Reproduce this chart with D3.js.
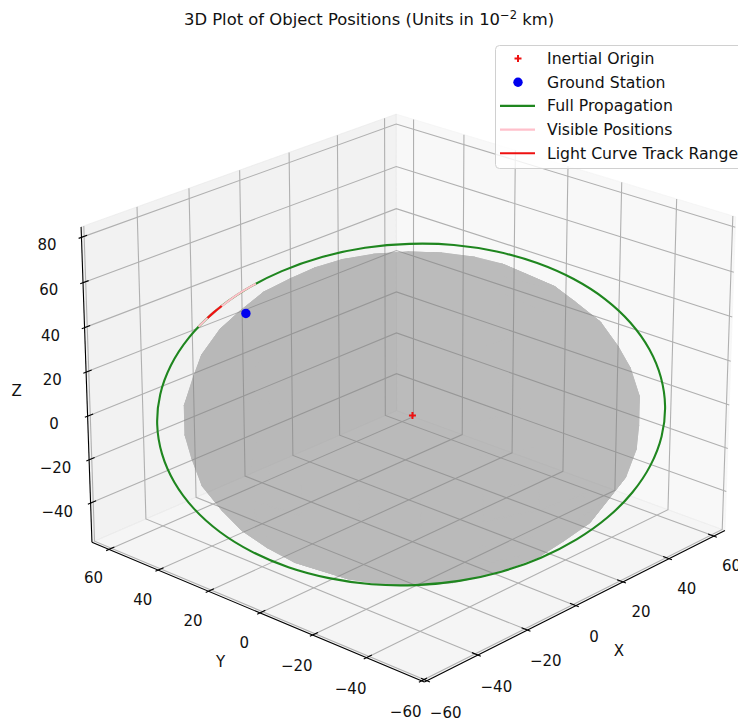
<!DOCTYPE html>
<html>
<head>
<meta charset="utf-8">
<script src="https://cdn.jsdelivr.net/npm/d3@7"></script>
<style>
  body { margin: 0; background: #fff; }
  text { font-family: "DejaVu Sans", sans-serif; fill: #111; }
</style>
</head>
<body>
<svg id="chart" width="738" height="723"></svg>
<script>
// axis ranges and ticks (units of 10^-2 km)
const xLim = [-61, 65];
const yLim = [-61, 67];
const zLim = [-58.3, 84.6];
const xTicks = [-60, -40, -20, 0, 20, 40, 60];
const yTicks = [-60, -40, -20, 0, 20, 40, 60];
const zTicks = [-40, -20, 0, 20, 40, 60, 80];

const earthRadius = 63.78;
const inertialOrigin = [0, 0, 0];
const groundStation = [-27.7, 37.3, 43.4];

// orbit samples [x, y, z]
const fullPropagation = [
  [-52.0, 48.4, 0], [-49.8, 49.2, 12.2], [-46.1, 48.5, 23.9], [-41.0, 46.3, 35.0],
  [-34.6, 42.7, 45.0], [-27.2, 37.8, 53.6], [-18.9, 31.8, 60.6], [-10.1, 24.8, 65.8],
  [-1.0, 17.0, 69.0], [8.2, 8.8, 70.0], [17.1, 0.2, 69.0], [25.4, -8.3, 65.8],
  [33.1, -16.6, 60.6], [39.7, -24.4, 53.6], [45.1, -31.4, 45.0], [49.1, -37.5, 35.0],
  [51.6, -42.5, 23.9], [52.6, -46.1, 12.2], [52.0, -48.4, 0], [49.8, -49.2, -12.2],
  [46.1, -48.5, -23.9], [41.0, -46.3, -35.0], [34.6, -42.7, -45.0], [27.2, -37.8, -53.6],
  [18.9, -31.8, -60.6], [10.1, -24.8, -65.8], [1.0, -17.0, -69.0], [-8.2, -8.8, -70.0],
  [-17.1, -0.2, -69.0], [-25.4, 8.3, -65.8], [-33.1, 16.6, -60.6], [-39.7, 24.4, -53.6],
  [-45.1, 31.4, -45.0], [-49.1, 37.5, -35.0], [-51.6, 42.5, -23.9], [-52.6, 46.1, -12.2]
];
const visiblePositions = [
  [-38.6, 45.0, 39.2], [-35.3, 43.1, 44.1], [-31.7, 40.9, 48.6], [-28.0, 38.4, 52.8], [-24.8, 36.1, 55.9]
];
const lightCurveTrack = [
  [-36.3, 43.7, 42.6], [-34.6, 42.7, 45.0], [-32.8, 41.6, 47.3]
];

const legendLabels = ["Inertial Origin", "Ground Station", "Full Propagation", "Visible Positions", "Light Curve Track Range"];
const legendColors = ["#ee1111", "#0000ee", "#1f861f", "#ffc0cb", "#ee1111"];

// view
const elev = 23, azim = -137.5, camDist = 10;
const boxK = 1.8294640721620434 / Math.hypot(4, 4, 3);
const box = [4 * boxK, 4 * boxK, 3 * boxK];
const nx = d3.scaleLinear().domain(xLim).range([0, box[0]]);
const ny = d3.scaleLinear().domain(yLim).range([0, box[1]]);
const nz = d3.scaleLinear().domain(zLim).range([0, box[2]]);
const sx = d3.scaleLinear().domain([-0.095, 0.09]).range([30.8, 768.2]);
const sy = d3.scaleLinear().domain([-0.095, 0.09]).range([760.4, 23.0]);

const er = elev * Math.PI / 180, ar = azim * Math.PI / 180;
const wv = [Math.cos(er) * Math.cos(ar), Math.cos(er) * Math.sin(ar), Math.sin(er)];
const uv = [-Math.sin(ar), Math.cos(ar), 0];
const vv = [-Math.sin(er) * Math.cos(ar), -Math.sin(er) * Math.sin(ar), Math.cos(er)];

function project(p) {
  const d = [nx(p[0]) - box[0] / 2, ny(p[1]) - box[1] / 2, nz(p[2]) - box[2] / 2];
  const dot = m => m[0] * d[0] + m[1] * d[1] + m[2] * d[2];
  const depth = camDist - dot(wv);
  return [sx(dot(uv) / depth), sy(dot(vv) / depth)];
}

const svg = d3.select("#chart");
svg.append("rect").attr("width", 738).attr("height", 723).attr("fill", "#fff");

const line3 = d3.line().x(p => project(p)[0]).y(p => project(p)[1]);
const [x0, x1] = xLim, [y0, y1] = yLim, [z0, z1] = zLim;

// panes
const panes = [
  { pts: [[x1, y0, z0], [x1, y1, z0], [x1, y1, z1], [x1, y0, z1]], c: "rgba(242,242,242,0.5)" },
  { pts: [[x0, y1, z0], [x1, y1, z0], [x1, y1, z1], [x0, y1, z1]], c: "rgba(230,230,230,0.5)" },
  { pts: [[x0, y0, z0], [x1, y0, z0], [x1, y1, z0], [x0, y1, z0]], c: "rgba(236,236,236,0.5)" }
];
svg.append("g").selectAll("path").data(panes).join("path")
  .attr("d", d => line3(d.pts) + "Z")
  .attr("fill", d => d.c)
  .attr("stroke", d => d.c);

// grid
const gridLines = [];
xTicks.forEach(t => gridLines.push([[t, y0, z0], [t, y1, z0], [t, y1, z1]]));
yTicks.forEach(t => gridLines.push([[x0, t, z0], [x1, t, z0], [x1, t, z1]]));
zTicks.forEach(t => gridLines.push([[x0, y1, t], [x1, y1, t], [x1, y0, t]]));
svg.append("g").selectAll("path").data(gridLines).join("path")
  .attr("d", line3)
  .attr("fill", "none")
  .attr("stroke", "#b0b0b0")
  .attr("stroke-width", 1.1);

// axis lines
const axisLines = [
  [[x0, y0, z0], [x1, y0, z0]],
  [[x0, y0, z0], [x0, y1, z0]],
  [[x0, y1, z0], [x0, y1, z1]]
];
svg.append("g").selectAll("path").data(axisLines).join("path")
  .attr("d", line3).attr("stroke", "#000").attr("stroke-width", 1.1);

// ticks
const dx = (x1 - x0) / 12, dy = (y1 - y0) / 12;
const tickMarks = [];
xTicks.forEach(t => tickMarks.push([[t, y0 - 0.1 * dy, z0], [t, y0 + 0.2 * dy, z0]]));
yTicks.forEach(t => tickMarks.push([[x0 - 0.1 * dx, t, z0], [x0 + 0.2 * dx, t, z0]]));
zTicks.forEach(t => tickMarks.push([[x0 - 0.1 * dx, y1, t], [x0 + 0.2 * dx, y1, t]]));
svg.append("g").selectAll("path").data(tickMarks).join("path")
  .attr("d", line3).attr("stroke", "#000").attr("stroke-width", 1.1);

const fmt = v => (v < 0 ? "\u2212" + Math.abs(v) : String(v));
const tickLabels = [];
xTicks.forEach(t => tickLabels.push({ p: [t, y0 - 6.7, z0 - 10.8], s: fmt(t) }));
yTicks.forEach(t => tickLabels.push({ p: [x0 - 6.15, t, z0 - 10.3], s: fmt(t) }));
zTicks.forEach(t => tickLabels.push({ p: [x0 - 10.2, y1 + 2.7, t], s: fmt(t) }));
tickLabels.push({ p: [(x0 + x1) / 2, y0 - 14, z0 - 14.9], s: "X" });
tickLabels.push({ p: [x0 - 12.3, (y0 + y1) / 2, z0 - 16.95], s: "Y" });
tickLabels.push({ p: [x0 - 14.7, y1 + 12.6, (z0 + z1) / 2], s: "Z" });
svg.append("g").selectAll("text").data(tickLabels).join("text")
  .attr("x", d => project(d.p)[0])
  .attr("y", d => project(d.p)[1])
  .attr("text-anchor", "middle")
  .attr("dominant-baseline", "central")
  .attr("font-size", 15)
  .text(d => d.s);

// earth
const lats = d3.range(-90, 90, 12);
const lons = d3.range(0, 360, 15);
const toXYZ = (lat, lon) => {
  const la = lat * Math.PI / 180, lo = lon * Math.PI / 180;
  return [earthRadius * Math.cos(la) * Math.cos(lo), earthRadius * Math.cos(la) * Math.sin(lo), earthRadius * Math.sin(la)];
};
const faces = [];
lats.forEach(la => lons.forEach(lo => {
  const la2 = Math.min(la + 12, 90);
  faces.push([toXYZ(la, lo), toXYZ(la, lo + 15), toXYZ(la2, lo + 15), toXYZ(la2, lo)]);
}));
svg.append("g").attr("opacity", 0.5)
  .selectAll("path").data(faces).join("path")
  .attr("d", d => line3(d) + "Z")
  .attr("fill", "#808080")
  .attr("stroke", "#808080")
  .attr("stroke-width", 0.8);

// orbit
const closedLine = d3.line().curve(d3.curveCatmullRomClosed).x(p => project(p)[0]).y(p => project(p)[1]);
svg.append("path").attr("d", closedLine(fullPropagation))
  .attr("fill", "none").attr("stroke", legendColors[2]).attr("stroke-width", 2.1);
const arc = d3.line().curve(d3.curveCatmullRom).x(p => project(p)[0]).y(p => project(p)[1]);
svg.append("path").attr("d", arc(visiblePositions))
  .attr("fill", "none").attr("stroke", legendColors[3]).attr("stroke-width", 2.1);
svg.append("path").attr("d", arc(lightCurveTrack))
  .attr("fill", "none").attr("stroke", legendColors[4]).attr("stroke-width", 2.1);

// markers
const gs = project(groundStation);
svg.append("circle").attr("cx", gs[0]).attr("cy", gs[1]).attr("r", 4.7).attr("fill", legendColors[1]);
const io = project(inertialOrigin);
svg.append("path").attr("d", `M${io[0] - 3.5},${io[1]}H${io[0] + 3.5}M${io[0]},${io[1] - 3.5}V${io[1] + 3.5}`)
  .attr("stroke", legendColors[0]).attr("stroke-width", 2);

// title
const title = svg.append("text").attr("x", 369).attr("y", 25).attr("text-anchor", "middle").attr("font-size", 16.4);
title.append("tspan").text("3D Plot of Object Positions (Units in 10");
title.append("tspan").attr("dy", -6).attr("font-size", 11.5).text("\u22122");
title.append("tspan").attr("dy", 6).text(" km)");

// legend
const ly = d3.scaleLinear().domain([0, 4]).range([58.5, 153.3]);
const lg = svg.append("g");
lg.append("rect").attr("x", 495.5).attr("y", 45.5).attr("width", 270).attr("height", 123)
  .attr("rx", 4).attr("fill", "#fff").attr("fill-opacity", 0.8).attr("stroke", "#d0d0d0");
legendLabels.forEach((lab, i) => {
  const y = ly(i);
  if (i === 0) {
    lg.append("path").attr("d", `M514.5,${y}H521.5M518,${y - 3.5}V${y + 3.5}`)
      .attr("stroke", legendColors[0]).attr("stroke-width", 2);
  } else if (i === 1) {
    lg.append("circle").attr("cx", 518).attr("cy", y).attr("r", 4.7).attr("fill", legendColors[1]);
  } else {
    lg.append("line").attr("x1", 500).attr("x2", 535).attr("y1", y).attr("y2", y)
      .attr("stroke", legendColors[i]).attr("stroke-width", 2.1);
  }
  lg.append("text").attr("x", 547).attr("y", y).attr("dominant-baseline", "central")
    .attr("font-size", 15.7).text(lab);
});
</script>
</body>
</html>
